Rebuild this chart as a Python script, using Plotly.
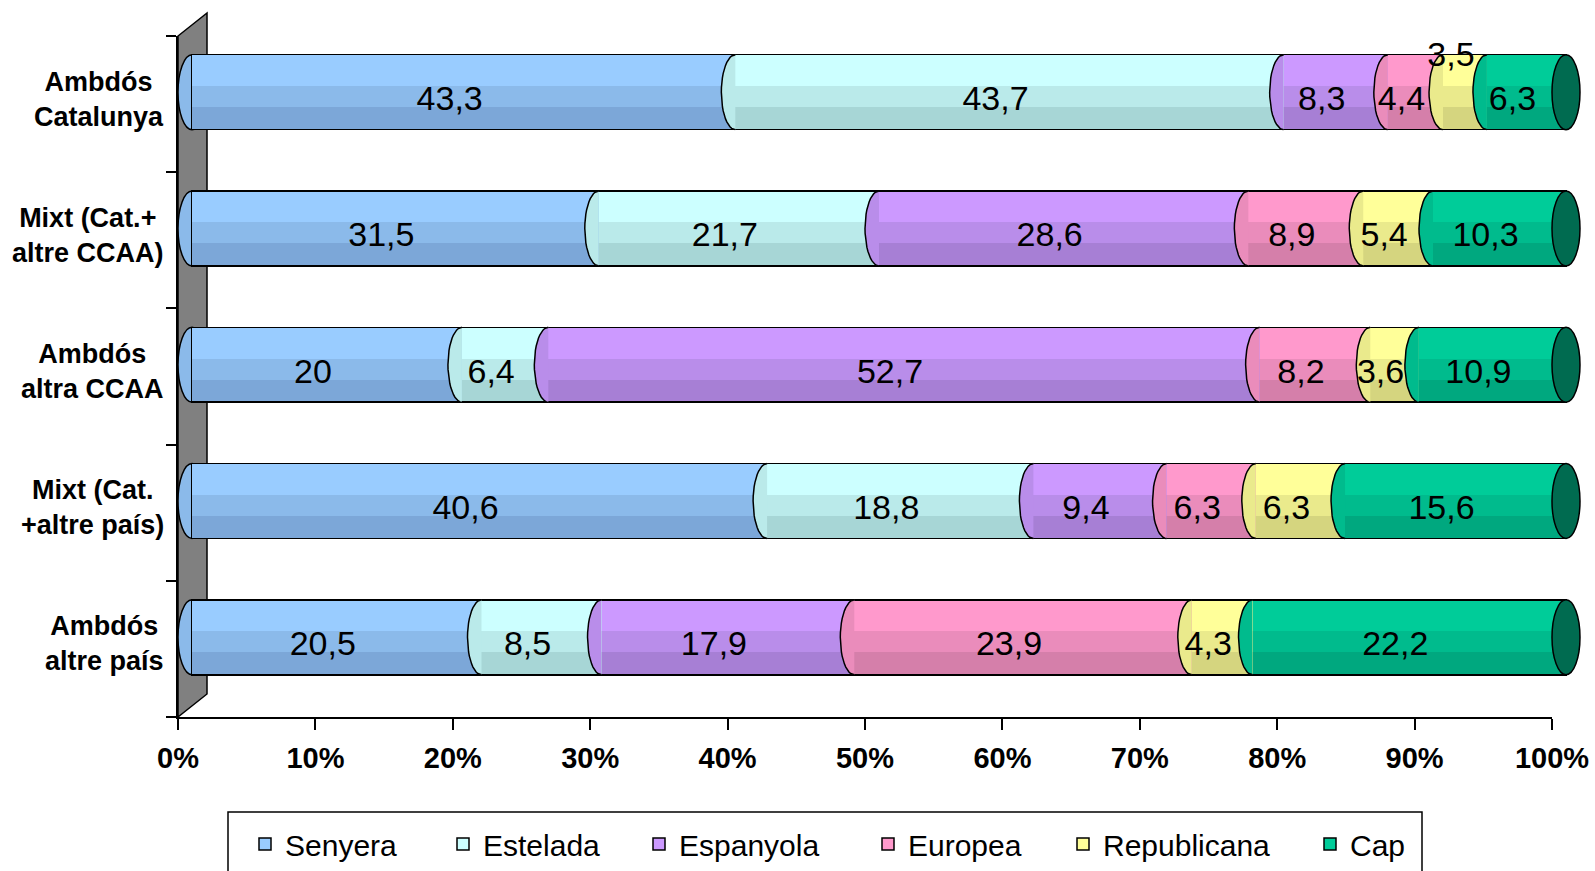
import math
import plotly.graph_objects as go

# ---------------- data ----------------
categories = ["Ambdós Catalunya", "Mixt (Cat.+ altre CCAA)", "Ambdós altra CCAA",
              "Mixt (Cat. +altre país)", "Ambdós altre país"]
category_labels = ["Ambdós<br>Catalunya", "Mixt (Cat.+<br>altre CCAA)", "Ambdós<br>altra CCAA",
                   "Mixt (Cat.<br>+altre país)", "Ambdós<br>altre país"]
series_names = ["Senyera", "Estelada", "Espanyola", "Europea", "Republicana", "Cap"]
senyera = [43.3, 31.5, 20, 40.6, 20.5]
estelada = [43.7, 21.7, 6.4, 18.8, 8.5]
espanyola = [8.3, 28.6, 52.7, 9.4, 17.9]
europea = [4.4, 8.9, 8.2, 6.3, 23.9]
republicana = [3.5, 5.4, 3.6, 6.3, 4.3]
cap = [6.3, 10.3, 10.9, 15.6, 22.2]
x_tick_values = [0, 10, 20, 30, 40, 50, 60, 70, 80, 90, 100]
x_tick_labels = ["0%", "10%", "20%", "30%", "40%", "50%", "60%", "70%", "80%", "90%", "100%"]
# label drawn lifted above its (narrow) segment, as in the original
lifted_labels = [("Republicana", 0)]

series_values = [senyera, estelada, espanyola, europea, republicana, cap]
# cylinder shading: light (top / legend), mid (middle band), dark (bottom band)
color_light = ["#99CCFF", "#CCFFFF", "#CC99FF", "#FF99CC", "#FFFF99", "#00CC99"]
color_mid = ["#8BBAEA", "#BAEAEA", "#B98DEA", "#EA8CBB", "#EAEA8C", "#00BB8D"]
color_dark = ["#7CA7D8", "#A7D6D6", "#A77FD5", "#D57FAA", "#D5D57F", "#00A87F"]
cap_end_color = "#006B50"
wall_color = "#808080"

FONT = "Liberation Sans, Arial, sans-serif"

# ---------------- geometry (pixels) ----------------
W, H = 1595, 871
L, R, T, B = 178, 10, 24, 154
PW, PH = W - L - R, H - T - B
AX_W = 1374          # width of the value axis (0%..100%)
AX_H = 681           # height of the category axis
DX, DY = 14, 11.5    # 3-D depth shift of the bars
TEXT_DY = 6          # value labels sit slightly below the bar centre line
BAR_W = 0.55
HALF = BAR_W / 2
EDGE = 0.0055        # half of the outline stroke, in category units
UNIT = 100 / AX_W    # value units per pixel on the bar axis
NC = len(categories)
x2_range = [-DX * UNIT, (PW - DX) * UNIT]
y_range = [NC - 0.5, -0.5]

# label frame: unshifted horizontally, slightly lowered vertically
x_front_range = [0, 100 * PW / AX_W]
cat_per_px = NC / (PH - DY)
y_front_range = [NC - 0.5 - TEXT_DY * cat_per_px, -0.5 - TEXT_DY * cat_per_px]


def px(x):
    return (x - L) / PW


def py(y):
    return (H - B - y) / PH


def fmt(v):
    return ("%g" % v).replace(".", ",")


fig = go.Figure()

# base layer: full cylinder body, outline, legend
for k, (name, vals) in enumerate(zip(series_names, series_values)):
    fig.add_trace(go.Bar(
        name=name, orientation="h", x=vals, y=categories,
        xaxis="x2", yaxis="y2", width=BAR_W,
        marker=dict(color=color_light[k], line=dict(color="black", width=1.5)),
        legend="legend" if k == 0 else f"legend{k + 1}",
        hoverinfo="skip",
    ))

# shading bands, each on its own overlaid axes so that they stack separately
split1, split2 = -0.044, 0.11
bands = [
    ("x3", "y3", color_light, -HALF + EDGE, split1 - (-HALF + EDGE)),
    ("x4", "y4", color_mid, split1, split2 - split1),
    ("x5", "y5", color_dark, split2, HALF - EDGE - split2),
]
for xa, ya, cols, off, wid in bands:
    for k, (name, vals) in enumerate(zip(series_names, series_values)):
        fig.add_trace(go.Bar(
            name=name, orientation="h", x=vals, y=categories,
            xaxis=xa, yaxis=ya, width=wid, offset=off,
            marker=dict(color=cols[k], line=dict(width=0)),
            showlegend=False, hoverinfo="skip",
        ))

# curved front edge of every slice (left half of an ellipse at each stack boundary)
rx = DX * UNIT
n_pts = 25
for k in range(1, len(series_values)):
    xs, ys = [], []
    for i in range(NC):
        total = sum(s[i] for s in series_values)
        b = sum(s[i] for s in series_values[:k]) / total * 100
        for j in range(n_pts):
            t = math.pi * j / (n_pts - 1)
            xs.append(b - rx * math.sin(t))
            ys.append(i - HALF * math.cos(t))
        xs.append(None)
        ys.append(None)
    fig.add_trace(go.Scatter(
        x=xs, y=ys, xaxis="x6", yaxis="y6", mode="lines",
        fill="toself", fillcolor=color_mid[k],
        line=dict(color="black", width=1.5),
        showlegend=False, hoverinfo="skip",
    ))

# value labels, drawn last
for k, (name, vals) in enumerate(zip(series_names, series_values)):
    texts = []
    for i, v in enumerate(vals):
        t = fmt(v)
        if (name, i) in lifted_labels:
            t = t + "<br> <br> "
        texts.append(t)
    fig.add_trace(go.Bar(
        name=name, orientation="h", x=vals, y=categories,
        xaxis="x7", yaxis="y7", width=BAR_W,
        marker=dict(color="rgba(0,0,0,0)", line=dict(width=0)),
        text=texts, textposition="inside", insidetextanchor="middle",
        textangle=0, constraintext="none", cliponaxis=False,
        textfont=dict(family=FONT, size=34, color="black"),
        showlegend=False, hoverinfo="skip",
    ))

shapes = []
# grey back wall
wall_depth_x, wall_depth_y = 29, 23
shapes.append(dict(
    type="path", xref="paper", yref="paper", layer="below",
    path=(f"M{px(L)},{py(H - B)} L{px(L)},{py(H - B - AX_H)} "
          f"L{px(L + wall_depth_x)},{py(H - B - AX_H - wall_depth_y)} "
          f"L{px(L + wall_depth_x)},{py(H - B - wall_depth_y)} Z"),
    fillcolor=wall_color, line=dict(color="black", width=1.5),
))

# cylinder ends, placed from the normalised stack totals
for i in range(NC):
    total = sum(s[i] for s in series_values)
    yt, yb = i - HALF, i + HALF
    shapes.append(dict(type="circle", xref="x2", yref="y2", layer="below",
                       x0=-rx, x1=rx, y0=yt, y1=yb,
                       fillcolor=color_mid[0], line=dict(color="black", width=1.5)))
    end = total / total * 100
    shapes.append(dict(type="circle", xref="x5", yref="y5", layer="above",
                       x0=end - rx, x1=end + rx, y0=yt, y1=yb,
                       fillcolor=cap_end_color, line=dict(color="black", width=1.5)))

# legend frame
shapes.append(dict(type="rect", xref="paper", yref="paper", layer="above",
                   x0=px(228), x1=px(1422), y0=py(812), y1=py(890),
                   fillcolor="rgba(0,0,0,0)", line=dict(color="black", width=1.5)))

annotations = []
for i, lab in enumerate(category_labels):
    annotations.append(dict(
        text=lab, xref="paper", yref="y", x=px(166), y=i, yshift=5,
        xanchor="right", yanchor="middle", align="center", showarrow=False,
        font=dict(family=FONT, size=27, color="black", weight="bold"),
    ))

legend_marker_left = [257, 455, 651, 880, 1075, 1322]
legends = {}
for k, mx in enumerate(legend_marker_left):
    key = "legend" if k == 0 else f"legend{k + 1}"
    legends[key] = dict(
        xref="container", yref="container",
        x=(mx - 12) / W, xanchor="left", y=1 - 844 / H, yanchor="middle",
        orientation="h", bgcolor="rgba(0,0,0,0)", borderwidth=0,
        font=dict(family=FONT, size=30, color="black"),
    )

hidden_x = dict(range=x2_range, visible=False, fixedrange=True)
cat_y = dict(type="category", categoryorder="array", categoryarray=categories,
             visible=False, fixedrange=True)
overlay_axes = {}
for n in range(3, 6):
    overlay_axes[f"xaxis{n}"] = dict(anchor=f"y{n}", overlaying="x2", **hidden_x)
    overlay_axes[f"yaxis{n}"] = dict(anchor=f"x{n}", overlaying="y2", range=y_range, **cat_y)
overlay_axes["xaxis6"] = dict(anchor="y6", overlaying="x2", **hidden_x)
overlay_axes["yaxis6"] = dict(anchor="x6", overlaying="y2", type="linear", range=y_range,
                              visible=False, fixedrange=True)
overlay_axes["xaxis7"] = dict(anchor="y7", overlaying="x2", range=x_front_range,
                              visible=False, fixedrange=True)
overlay_axes["yaxis7"] = dict(anchor="x7", overlaying="y2", range=y_front_range, **cat_y)

fig.update_layout(
    width=W, height=H,
    margin=dict(l=L, r=R, t=T, b=B, pad=0, autoexpand=False),
    paper_bgcolor="white", plot_bgcolor="rgba(0,0,0,0)",
    barmode="stack", barnorm="percent",
    font=dict(family=FONT, color="black"),
    showlegend=True,
    xaxis=dict(domain=[0, AX_W / PW], anchor="y", range=[0, 100], automargin=False,
               tickmode="array", tickvals=x_tick_values, ticktext=x_tick_labels,
               ticks="outside", ticklen=11, tickwidth=1.5, tickcolor="black",
               ticklabelstandoff=3,
               showline=True, linecolor="black", linewidth=1.5,
               showgrid=False, zeroline=False, fixedrange=True,
               tickfont=dict(family=FONT, size=29, color="black", weight="bold")),
    yaxis=dict(domain=[0, AX_H / PH], anchor="x", range=y_range, automargin=False,
               tickmode="array", tickvals=[i - 0.5 for i in range(NC + 1)],
               showticklabels=False,
               ticks="outside", ticklen=10, tickwidth=1.5, tickcolor="black",
               showline=True, linecolor="black", linewidth=1.5,
               showgrid=False, zeroline=False, fixedrange=True),
    xaxis2=dict(domain=[0, 1], anchor="y2", **hidden_x),
    yaxis2=dict(domain=[DY / PH, 1], anchor="x2", range=y_range, **cat_y),
    shapes=shapes,
    annotations=annotations,
    **overlay_axes,
    **legends,
)

fig.write_html("out.html", config={"displayModeBar": False},
               post_script="document.body.style.margin='0';document.body.style.overflow='hidden';")
